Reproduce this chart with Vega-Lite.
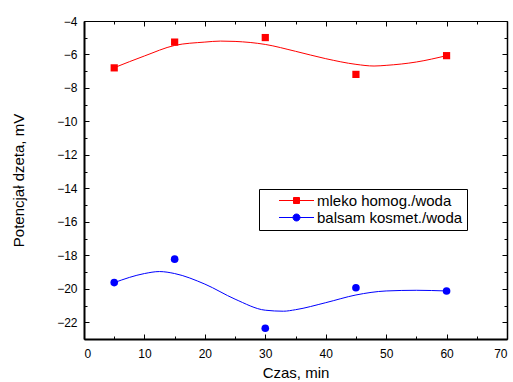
{
  "$schema": "https://vega.github.io/schema/vega-lite/v6.json",
  "width": 423,
  "height": 318,
  "autosize": "none",
  "padding": {"left": 84, "top": 21, "right": 6, "bottom": 43},
  "background": "white",
  "config": {
    "view": {"stroke": null},
    "font": "Liberation Sans",
    "axis": {
      "grid": false,
      "domainColor": "black",
      "domainWidth": 1.5,
      "tickColor": "black",
      "tickWidth": 1,
      "labelColor": "black",
      "titleColor": "black",
      "labelFont": "Liberation Sans",
      "titleFont": "Liberation Sans",
      "labelFontSize": 12,
      "titleFontSize": 15,
      "titleFontWeight": "normal"
    }
  },
  "datasets": {
    "points": [
      {"series": "mleko homog./woda", "czas": 5, "potencjal": -6.80},
      {"series": "mleko homog./woda", "czas": 15, "potencjal": -5.26},
      {"series": "mleko homog./woda", "czas": 30, "potencjal": -4.99},
      {"series": "mleko homog./woda", "czas": 45, "potencjal": -7.19},
      {"series": "mleko homog./woda", "czas": 60, "potencjal": -6.07},
      {"series": "balsam kosmet./woda", "czas": 5, "potencjal": -19.63},
      {"series": "balsam kosmet./woda", "czas": 15, "potencjal": -18.23},
      {"series": "balsam kosmet./woda", "czas": 30, "potencjal": -22.36},
      {"series": "balsam kosmet./woda", "czas": 45, "potencjal": -19.94},
      {"series": "balsam kosmet./woda", "czas": 60, "potencjal": -20.13}
    ],
    "curves": [
      {"series": "mleko homog./woda", "czas": 5, "potencjal": -6.79},
      {"series": "mleko homog./woda", "czas": 10, "potencjal": -6.09},
      {"series": "mleko homog./woda", "czas": 15, "potencjal": -5.46},
      {"series": "mleko homog./woda", "czas": 20, "potencjal": -5.26},
      {"series": "mleko homog./woda", "czas": 22.6, "potencjal": -5.20},
      {"series": "mleko homog./woda", "czas": 25, "potencjal": -5.22},
      {"series": "mleko homog./woda", "czas": 30, "potencjal": -5.40},
      {"series": "mleko homog./woda", "czas": 35, "potencjal": -5.81},
      {"series": "mleko homog./woda", "czas": 40, "potencjal": -6.25},
      {"series": "mleko homog./woda", "czas": 45, "potencjal": -6.59},
      {"series": "mleko homog./woda", "czas": 48, "potencjal": -6.69},
      {"series": "mleko homog./woda", "czas": 50, "potencjal": -6.65},
      {"series": "mleko homog./woda", "czas": 55, "potencjal": -6.45},
      {"series": "mleko homog./woda", "czas": 60, "potencjal": -6.07},
      {"series": "balsam kosmet./woda", "czas": 5, "potencjal": -19.63},
      {"series": "balsam kosmet./woda", "czas": 10, "potencjal": -19.09},
      {"series": "balsam kosmet./woda", "czas": 12.5, "potencjal": -18.97},
      {"series": "balsam kosmet./woda", "czas": 15, "potencjal": -19.09},
      {"series": "balsam kosmet./woda", "czas": 20, "potencjal": -19.72},
      {"series": "balsam kosmet./woda", "czas": 25, "potencjal": -20.62},
      {"series": "balsam kosmet./woda", "czas": 30, "potencjal": -21.28},
      {"series": "balsam kosmet./woda", "czas": 33, "potencjal": -21.34},
      {"series": "balsam kosmet./woda", "czas": 35, "potencjal": -21.25},
      {"series": "balsam kosmet./woda", "czas": 40, "potencjal": -20.83},
      {"series": "balsam kosmet./woda", "czas": 45, "potencjal": -20.37},
      {"series": "balsam kosmet./woda", "czas": 50, "potencjal": -20.13},
      {"series": "balsam kosmet./woda", "czas": 55, "potencjal": -20.09},
      {"series": "balsam kosmet./woda", "czas": 60, "potencjal": -20.13}
    ]
  },
  "resolve": {"axis": {"x": "independent", "y": "independent"}},
  "layer": [
    {
      "data": {"name": "curves"},
      "mark": {"type": "line", "interpolate": "monotone", "strokeWidth": 1},
      "encoding": {
        "x": {
          "field": "czas", "type": "quantitative",
          "scale": {"domain": [0, 70], "nice": false, "zero": false},
          "axis": {
            "orient": "bottom",
            "title": "Czas, min",
            "values": [0, 5, 10, 15, 20, 25, 30, 35, 40, 45, 50, 55, 60, 65, 70],
            "labelExpr": "datum.value % 10 === 0 ? datum.label : ''",
            "tickSize": {"condition": {"test": "datum.value % 10 === 0", "value": -5}, "value": -3},
            "labelPadding": 14,
            "titlePadding": 6,
            "domainWidth": 2
          }
        },
        "y": {
          "field": "potencjal", "type": "quantitative",
          "scale": {"domain": [-23, -4], "nice": false, "zero": false},
          "axis": {
            "orient": "left",
            "title": "Potencjał dzeta, mV",
            "values": [-23, -22, -21, -20, -19, -18, -17, -16, -15, -14, -13, -12, -11, -10, -9, -8, -7, -6, -5, -4],
            "labelExpr": "datum.value % 2 === 0 ? datum.label : ''",
            "tickSize": {"condition": {"test": "datum.value % 2 === 0", "value": -5}, "value": -3},
            "labelPadding": 12,
            "titlePadding": 30,
            "domainWidth": 2
          }
        },
        "color": {
          "field": "series", "type": "nominal",
          "scale": {"domain": ["mleko homog./woda", "balsam kosmet./woda"], "range": ["#ff0000", "#0000ff"]},
          "legend": {
            "title": null,
            "orient": "none",
            "legendX": 175,
            "legendY": 168,
            "direction": "vertical",
            "strokeColor": "black",
            "fillColor": "white",
            "padding": 4,
            "rowPadding": 1,
            "labelFont": "Liberation Sans",
            "labelFontSize": 15,
            "labelColor": "black",
            "symbolSize": 100,
            "symbolOffset": 26,
            "labelOffset": 13,
            "labelLimit": 300,
            "encode": {
              "symbols": {
                "update": {
                  "shape": {"signal": "datum.value === 'mleko homog./woda' ? 'M-3.5,0H3.5M-0.6,-0.6H0.6V0.6H-0.6Z' : 'M-3.5,0H3.5M-0.7,0A0.7,0.7 0 1,0 0.7,0A0.7,0.7 0 1,0 -0.7,0Z'"},
                  "fill": {"signal": "datum.value === 'mleko homog./woda' ? '#ff0000' : '#0000ff'"},
                  "stroke": {"signal": "datum.value === 'mleko homog./woda' ? '#ff0000' : '#0000ff'"},
                  "strokeWidth": {"value": 1},
                  "opacity": {"value": 1}
                }
              }
            }
          }
        },
        "detail": {"field": "series"}
      }
    },
    {
      "data": {"name": "points"},
      "transform": [{"filter": "datum.series === 'mleko homog./woda'"}],
      "mark": {"type": "square", "filled": true, "opacity": 1, "size": 52},
      "encoding": {
        "x": {
          "field": "czas", "type": "quantitative",
          "axis": {
            "orient": "top",
            "title": null,
            "labels": false,
            "values": [0, 5, 10, 15, 20, 25, 30, 35, 40, 45, 50, 55, 60, 65, 70],
            "tickSize": {"condition": {"test": "datum.value % 10 === 0", "value": -5}, "value": -3},
            "domainWidth": 1.2
          }
        },
        "y": {
          "field": "potencjal", "type": "quantitative",
          "axis": {
            "orient": "right",
            "title": null,
            "labels": false,
            "values": [-23, -22, -21, -20, -19, -18, -17, -16, -15, -14, -13, -12, -11, -10, -9, -8, -7, -6, -5, -4],
            "tickSize": {"condition": {"test": "datum.value % 2 === 0", "value": -5}, "value": -3},
            "domainWidth": 1.5
          }
        },
        "color": {"field": "series", "type": "nominal"}
      }
    },
    {
      "data": {"name": "points"},
      "transform": [{"filter": "datum.series === 'balsam kosmet./woda'"}],
      "mark": {"type": "circle", "opacity": 1, "size": 58},
      "encoding": {
        "x": {"field": "czas", "type": "quantitative", "axis": null},
        "y": {"field": "potencjal", "type": "quantitative", "axis": null},
        "color": {"field": "series", "type": "nominal"}
      }
    }
  ]
}
